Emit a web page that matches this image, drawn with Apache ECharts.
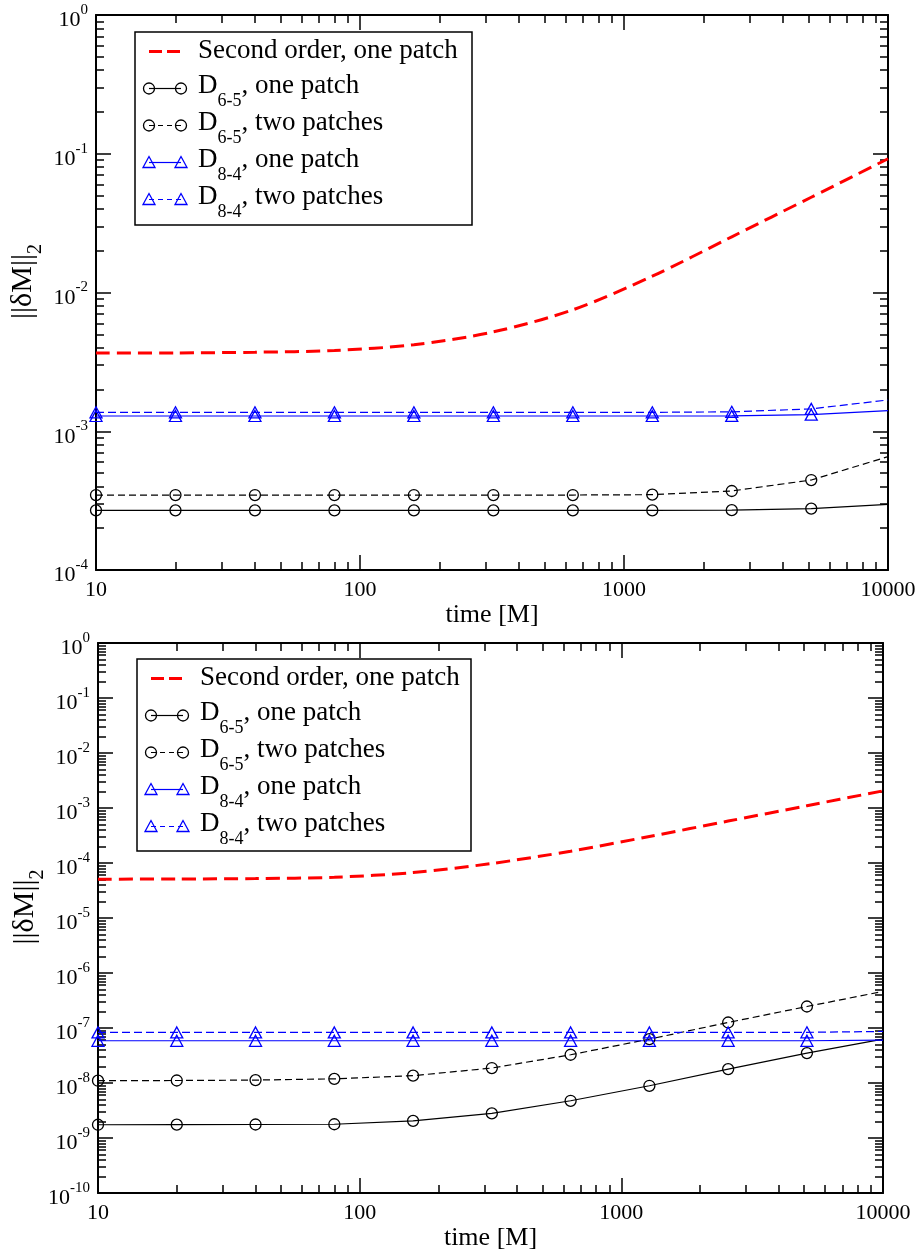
<!DOCTYPE html>
<html><head><meta charset="utf-8">
<script src="https://cdn.jsdelivr.net/npm/echarts@6/dist/echarts.min.js"></script>
<style>html,body{margin:0;padding:0;background:#fff}#c{width:923px;height:1252px}</style>
</head><body><div id="c"></div>
<script>
// ---------- data ----------
const times = [10, 20, 40, 80, 160, 320, 640, 1280, 2560, 5120, 10000];
// top panel
const secondOrderTop = [3.66e-3, 3.67e-3, 3.71e-3, 3.82e-3, 4.2e-3, 5.2e-3, 7.5e-3, 1.31e-2, 2.52e-2, 4.86e-2, 9.2e-2];
const d65OneTop = [2.69e-4, 2.69e-4, 2.69e-4, 2.69e-4, 2.69e-4, 2.69e-4, 2.69e-4, 2.69e-4, 2.70e-4, 2.77e-4, 2.97e-4];
const d65TwoTop = [3.47e-4, 3.47e-4, 3.47e-4, 3.47e-4, 3.47e-4, 3.47e-4, 3.47e-4, 3.49e-4, 3.71e-4, 4.45e-4, 6.56e-4];
const d84OneTop = [1.288e-3, 1.288e-3, 1.288e-3, 1.288e-3, 1.288e-3, 1.288e-3, 1.288e-3, 1.288e-3, 1.29e-3, 1.316e-3, 1.41e-3];
const d84TwoTop = [1.369e-3, 1.369e-3, 1.369e-3, 1.369e-3, 1.369e-3, 1.369e-3, 1.369e-3, 1.369e-3, 1.38e-3, 1.45e-3, 1.68e-3];
// bottom panel
const secondOrderBot = [5.08e-5, 5.12e-5, 5.2e-5, 5.5e-5, 6.7e-5, 9.8e-5, 1.64e-4, 3.03e-4, 5.78e-4, 1.10e-3, 2.05e-3];
const d65OneBot = [1.74e-9, 1.75e-9, 1.76e-9, 1.78e-9, 2.05e-9, 2.80e-9, 4.75e-9, 8.9e-9, 1.79e-8, 3.50e-8, 6.28e-8];
const d65TwoBot = [1.10e-8, 1.11e-8, 1.13e-8, 1.19e-8, 1.36e-8, 1.87e-8, 3.26e-8, 6.28e-8, 1.26e-7, 2.46e-7, 4.62e-7];
const d84OneBot = [5.86e-8, 5.86e-8, 5.86e-8, 5.86e-8, 5.86e-8, 5.86e-8, 5.86e-8, 5.86e-8, 5.86e-8, 5.86e-8, 6.0e-8];
const d84TwoBot = [8.3e-8, 8.3e-8, 8.3e-8, 8.3e-8, 8.3e-8, 8.3e-8, 8.3e-8, 8.3e-8, 8.3e-8, 8.35e-8, 8.65e-8];
// tick labels / axis texts
const xTickLabels = ['10', '100', '1000', '10000'];
const yExpTop = [0, -1, -2, -3, -4];
const yExpBot = [0, -1, -2, -3, -4, -5, -6, -7, -8, -9, -10];
const xTitle = 'time [M]';
const yTitleMain = '||δM||';
const yTitleSub = '2';
// legend texts
const legendBase = ['Second order, one patch', 'D', 'D', 'D', 'D'];
const legendSub = ['', '6-5', '6-5', '8-4', '8-4'];
const legendTail = ['', ', one patch', ', two patches', ', one patch', ', two patches'];

// ---------- styling ----------
const FONT = '"Liberation Serif","Times New Roman",serif';
const RED = '#ff0000', BLUE = '#0000ff', BLACK = '#000000';

function pts(vals) {
  return times.map((t, i) => i < times.length - 1 ? [t, vals[i]] : { value: [t, vals[i]], symbol: 'none' });
}

function makeSeries(xi, yi, red, d65a, d65b, d84a, d84b) {
  const base = { type: 'line', xAxisIndex: xi, yAxisIndex: yi, clip: false, animation: false, emphasis: { disabled: true }, silent: true };
  const circ = { symbol: 'circle', symbolSize: 11, itemStyle: { color: 'rgba(0,0,0,0)', borderColor: BLACK, borderWidth: 1.3 } };
  const tri = { symbol: 'triangle', symbolSize: [12, 11], itemStyle: { color: 'rgba(0,0,0,0)', borderColor: BLUE, borderWidth: 1.3 } };
  return [
    Object.assign({}, base, circ, { name: 'D65one', data: pts(d65a), lineStyle: { color: BLACK, width: 1.2 } }),
    Object.assign({}, base, circ, { name: 'D65two', data: pts(d65b), lineStyle: { color: BLACK, width: 1.2, type: [7, 4] } }),
    Object.assign({}, base, tri, { name: 'D84one', data: pts(d84a), lineStyle: { color: BLUE, width: 1.2 } }),
    Object.assign({}, base, tri, { name: 'D84two', data: pts(d84b), lineStyle: { color: BLUE, width: 1.2, type: [8, 4] } }),
    Object.assign({}, base, { name: 'second', data: times.map((t, i) => [t, red[i]]), showSymbol: false, symbol: 'none', smooth: 0.3,
      lineStyle: { color: RED, width: 3, type: [14, 7] } })
  ];
}

const tickCommon = {
  axisLine: { show: true, lineStyle: { color: BLACK, width: 2 } },
  axisTick: { show: true, inside: true, length: 15, lineStyle: { color: BLACK, width: 1.5 } },
  minorTick: { show: true, splitNumber: 9, length: 8, lineStyle: { color: BLACK, width: 1.5 } },
  splitLine: { show: false }, minorSplitLine: { show: false }
};

function xAxes(gi, nameGap) {
  const main = Object.assign({ type: 'log', logBase: 10, min: 10, max: 10000, gridIndex: gi, position: 'bottom',
    name: xTitle, nameLocation: 'middle', nameGap: nameGap,
    nameTextStyle: { fontFamily: FONT, fontSize: 26, color: BLACK },
    axisLabel: { show: true, margin: 9, fontFamily: FONT, fontSize: 22, color: BLACK, showMinLabel: true, showMaxLabel: true,
      formatter: v => xTickLabels[Math.round(Math.log10(v)) - 1] } }, tickCommon);
  const top = Object.assign({ type: 'log', logBase: 10, min: 10, max: 10000, gridIndex: gi, position: 'top',
    axisLabel: { show: false } }, tickCommon);
  return [main, top];
}

function yAxes(gi, minV, exps) {
  const lab = {
    show: true, margin: 8, fontFamily: FONT, fontSize: 22, color: BLACK, showMinLabel: true, showMaxLabel: true,
    formatter: v => { const e = Math.round(Math.log10(v)); return exps.indexOf(e) >= 0 ? '{b|10}{s|' + e + '}' : ''; },
    rich: {
      b: { fontFamily: FONT, fontSize: 22, color: BLACK, padding: [11, 0, 0, 0], verticalAlign: 'top' },
      s: { fontFamily: FONT, fontSize: 15, color: BLACK, padding: [4, 0, 0, 0], verticalAlign: 'top' }
    }
  };
  const main = Object.assign({ type: 'log', logBase: 10, min: minV, max: 1, interval: 1, gridIndex: gi, position: 'left',
    name: '{b|' + yTitleMain + '}{s|' + yTitleSub + '}', nameLocation: 'middle', nameGap: 50, nameRotate: 90, nameMoveOverlap: false,
    nameTextStyle: { fontFamily: FONT, fontSize: 30, color: BLACK, padding: [0, 0, 0, 22],
      rich: { b: { fontFamily: FONT, fontSize: 30, color: BLACK, padding: [0, 0, 8, 0], verticalAlign: 'bottom' },
              s: { fontFamily: FONT, fontSize: 20, color: BLACK, verticalAlign: 'bottom' } } },
    axisLabel: lab }, tickCommon);
  const right = Object.assign({ type: 'log', logBase: 10, min: minV, max: 1, interval: 1, gridIndex: gi, position: 'right',
    axisLabel: { show: false } }, tickCommon);
  return [main, right];
}

function legendGraphic(bx, by, bw, bh) {
  const els = [];
  els.push({ type: 'rect', z: 100, shape: { x: bx, y: by, width: bw, height: bh }, style: { fill: '#fff', stroke: BLACK, lineWidth: 1.5 } });
  const x1 = bx + 14, x2 = bx + 46, tx = bx + 63;
  const rich = {
    p: { fontFamily: FONT, fontSize: 27, fill: BLACK },
    b: { fontFamily: FONT, fontSize: 27, fill: BLACK, padding: [0, 0, 11, 0], verticalAlign: 'bottom' },
    s: { fontFamily: FONT, fontSize: 18, fill: BLACK, verticalAlign: 'bottom' }
  };
  for (let i = 0; i < legendBase.length; i++) {
    const y = by + 19.5 + 37 * i;
    if (i === 0) {
      els.push({ type: 'line', z: 101, shape: { x1: x1, y1: y, x2: x2, y2: y }, style: { stroke: RED, lineWidth: 3, lineDash: [13, 5] } });
      els.push({ type: 'text', z: 101, style: { x: tx, y: y - 1, text: '{p|' + legendBase[i] + '}', rich: rich, verticalAlign: 'middle', align: 'left' } });
    } else {
      const col = i <= 2 ? BLACK : BLUE;
      const dashed = (i === 2 || i === 4);
      els.push({ type: 'line', z: 101, shape: { x1: x1, y1: y, x2: x2, y2: y }, style: { stroke: col, lineWidth: 1.2, lineDash: dashed ? [5, 4] : null } });
      [x1, x2].forEach(xx => {
        if (i <= 2) {
          els.push({ type: 'circle', z: 102, shape: { cx: xx, cy: y, r: 5.5 }, style: { fill: 'rgba(0,0,0,0)', stroke: col, lineWidth: 1.3 } });
        } else {
          els.push({ type: 'polygon', z: 102, shape: { points: [[xx - 6, y + 5], [xx + 6, y + 5], [xx, y - 6]] }, style: { fill: 'rgba(0,0,0,0)', stroke: col, lineWidth: 1.3 } });
        }
      });
      els.push({ type: 'text', z: 101, style: { x: tx, y: y + 2.5, text: '{b|' + legendBase[i] + '}{s|' + legendSub[i] + '}{b|' + legendTail[i] + '}', rich: rich, verticalAlign: 'middle', align: 'left' } });
    }
  }
  return els;
}

const chart = echarts.init(document.getElementById('c'), null, { renderer: 'canvas' });
const xa = xAxes(0, 24).concat(xAxes(1, 28));
const ya = yAxes(0, 1e-4, yExpTop).concat(yAxes(1, 1e-10, yExpBot));
chart.setOption({
  animation: false,
  backgroundColor: '#fff',
  grid: [
    { left: 96, top: 15, width: 792, height: 555, show: false, containLabel: false, outerBoundsMode: 'none' },
    { left: 98, top: 643, width: 785, height: 550, show: false, containLabel: false, outerBoundsMode: 'none' }
  ],
  xAxis: xa,
  yAxis: ya,
  series: makeSeries(0, 0, secondOrderTop, d65OneTop, d65TwoTop, d84OneTop, d84TwoTop)
    .concat(makeSeries(2, 2, secondOrderBot, d65OneBot, d65TwoBot, d84OneBot, d84TwoBot)),
  graphic: { elements: legendGraphic(135, 32, 337, 193).concat(legendGraphic(137, 659, 334, 192)) }
});
</script></body></html>
